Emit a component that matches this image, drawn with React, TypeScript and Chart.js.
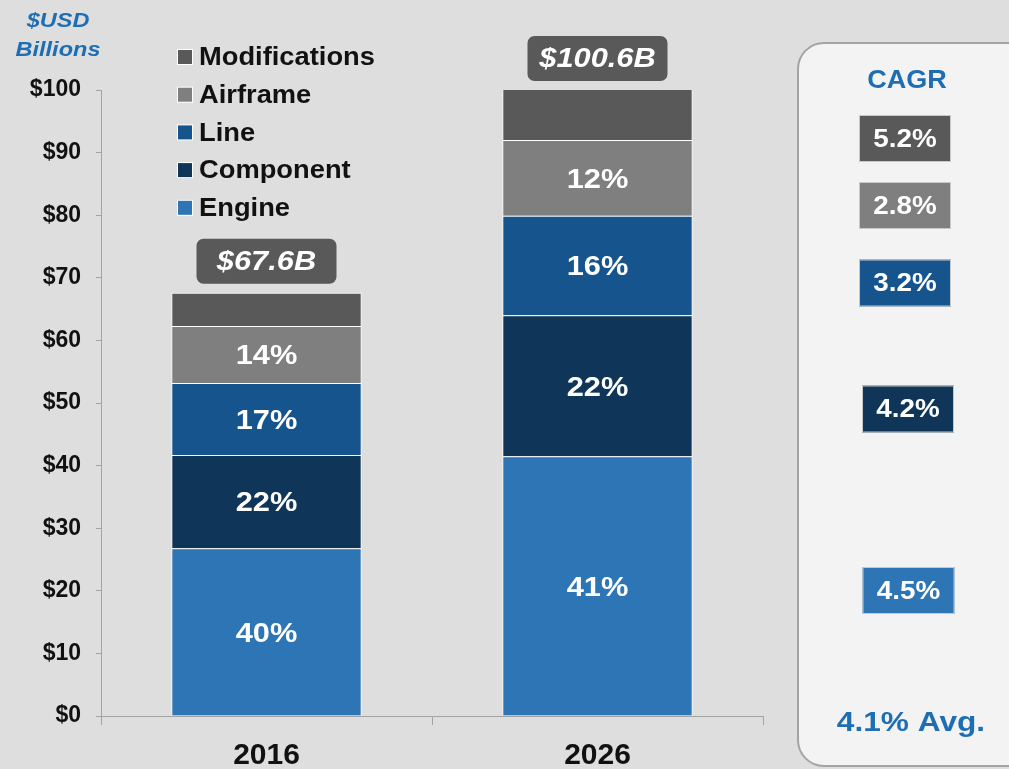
import React, { useEffect, useRef } from "react";
import { Chart, registerables } from "chart.js";
Chart.register(...registerables);

const categories = ["2016", "2026"];
const seriesNames = ["Engine", "Component", "Line", "Airframe", "Modifications"];
const engine = [26.8, 41.5];
const component = [14.9, 22.5];
const line = [11.5, 15.9];
const airframe = [9.1, 12.1];
const modifications = [5.3, 8.6];
const engineShare = ["40%", "41%"];
const componentShare = ["22%", "22%"];
const lineShare = ["17%", "16%"];
const airframeShare = ["14%", "12%"];
const modificationsShare = ["", ""];
const totals = ["$67.6B", "$100.6B"];
// CAGR per series: Engine, Component, Line, Airframe, Modifications
const cagr = ["4.5%", "4.2%", "3.2%", "2.8%", "5.2%"];
const cagrTitle = "CAGR";
const cagrAvg = "4.1% Avg.";
const yUnitLabel = ["$USD", "Billions"];
const yMin = 0;
const yMax = 100;
const yStep = 10;

const colors = ["#2e75b6", "#0f3659", "#16548e", "#7f7f7f", "#595959"];
const FONT = "'Liberation Sans', Arial, sans-serif";
const BLUE = "#1e6eb4";

function roundRect(ctx: CanvasRenderingContext2D, x: number, y: number, w: number, h: number, r: number) {
  ctx.beginPath();
  ctx.moveTo(x + r, y);
  ctx.lineTo(x + w - r, y);
  ctx.arcTo(x + w, y, x + w, y + r, r);
  ctx.lineTo(x + w, y + h - r);
  ctx.arcTo(x + w, y + h, x + w - r, y + h, r);
  ctx.lineTo(x + r, y + h);
  ctx.arcTo(x, y + h, x, y + h - r, r);
  ctx.lineTo(x, y + r);
  ctx.arcTo(x, y, x + r, y, r);
  ctx.closePath();
}

function wideText(ctx: CanvasRenderingContext2D, text: string, x: number, y: number, sx: number) {
  ctx.save();
  ctx.translate(x, y);
  ctx.scale(sx, 1);
  ctx.fillText(text, 0, 0);
  ctx.restore();
}

const overlayPlugin = {
  id: "overlay",
  afterDraw(chart: any) {
    const ctx: CanvasRenderingContext2D = chart.ctx;
    const area = chart.chartArea;
    const shares = [engineShare, componentShare, lineShare, airframeShare, modificationsShare];
    ctx.save();
    ctx.textAlign = "center";
    ctx.textBaseline = "middle";
    ctx.fillStyle = "#ffffff";
    ctx.font = `bold 28px ${FONT}`;
    shares.forEach((arr, i) => {
      const meta = chart.getDatasetMeta(i);
      meta.data.forEach((el: any, j: number) => {
        const top = Math.max(el.y, area.top);
        const cy = (top + el.base) / 2 + 2;
        if (arr[j]) wideText(ctx, arr[j], el.x, cy, 1.1);
      });
    });
    const lastMeta = chart.getDatasetMeta(shares.length - 1);
    lastMeta.data.forEach((el: any, j: number) => {
      const top = Math.max(el.y, area.top);
      const w = 140, h = 45;
      const bx = el.x - w / 2;
      const by = top - 9 - h;
      ctx.fillStyle = "#595959";
      roundRect(ctx, bx, by, w, h, 7);
      ctx.fill();
      ctx.fillStyle = "#ffffff";
      ctx.font = `italic bold 28px ${FONT}`;
      wideText(ctx, totals[j], el.x, by + h / 2 + 1, 1.1);
    });
    ctx.fillStyle = BLUE;
    ctx.font = `italic bold 21px ${FONT}`;
    wideText(ctx, yUnitLabel[0], 58, 21, 1.12);
    wideText(ctx, yUnitLabel[1], 58, 50, 1.12);
    const order = [4, 3, 2, 1, 0];
    ctx.textAlign = "left";
    order.forEach((idx, k) => {
      const cy = 57 + k * 37.7;
      ctx.fillStyle = "#ffffff";
      ctx.fillRect(177, cy - 8, 16, 16);
      ctx.fillStyle = colors[idx];
      ctx.fillRect(178, cy - 7, 14, 14);
      ctx.fillStyle = "#111111";
      ctx.font = `bold 26px ${FONT}`;
      wideText(ctx, seriesNames[idx], 199, cy + 1, 1.05);
    });
    ctx.fillStyle = "#f3f3f3";
    ctx.strokeStyle = "#a3a3a3";
    ctx.lineWidth = 2;
    roundRect(ctx, 798, 43, 260, 723, 26);
    ctx.fill();
    ctx.stroke();
    ctx.textAlign = "center";
    ctx.fillStyle = BLUE;
    ctx.font = `bold 26px ${FONT}`;
    wideText(ctx, cagrTitle, 907, 81, 1.04);
    const boxes = [
      { idx: 4, cx: 905, cy: 138.5 },
      { idx: 3, cx: 905, cy: 205.5 },
      { idx: 2, cx: 905, cy: 283 },
      { idx: 1, cx: 908, cy: 409 },
      { idx: 0, cx: 908.5, cy: 590.5 },
    ];
    boxes.forEach((b) => {
      ctx.fillStyle = colors[b.idx];
      ctx.fillRect(b.cx - 46, b.cy - 23.5, 92, 47);
      ctx.strokeStyle = "#c9c9c9";
      ctx.lineWidth = 1;
      ctx.strokeRect(b.cx - 46 + 0.5, b.cy - 23.5 + 0.5, 91, 46);
      ctx.fillStyle = "#ffffff";
      ctx.font = `bold 26px ${FONT}`;
      wideText(ctx, cagr[b.idx], b.cx, b.cy + 1, 1.07);
    });
    ctx.fillStyle = BLUE;
    ctx.font = `bold 28px ${FONT}`;
    wideText(ctx, cagrAvg, 911, 723, 1.13);
    ctx.restore();
  },
};

export default function App() {
  const ref = useRef<HTMLCanvasElement | null>(null);
  useEffect(() => {
    document.body.style.margin = "0";
    const seriesData = [engine, component, line, airframe, modifications];
    const chart = new Chart(ref.current as HTMLCanvasElement, {
      type: "bar",
      data: {
        labels: categories,
        datasets: seriesData.map((d, i) => ({
          label: seriesNames[i],
          data: d,
          backgroundColor: colors[i],
          borderColor: "#ffffff",
          borderWidth: 1,
          categoryPercentage: 1,
          barPercentage: 0.575,
        })),
      },
      options: {
        responsive: false,
        animation: false,
        devicePixelRatio: 1,
        layout: { padding: { top: 90, right: 246, bottom: 0, left: 0 } },
        plugins: { legend: { display: false }, tooltip: { enabled: false } },
        scales: {
          x: {
            stacked: true,
            afterFit: (s: any) => { s.height = 53; },
            grid: { display: true, drawOnChartArea: false, drawTicks: true, tickLength: 9, color: "#a3a3a3", offset: true },
            border: { display: true, color: "#a3a3a3", width: 1 },
            ticks: { color: "#111111", padding: 13, font: { family: FONT, size: 30, weight: "bold" } },
          },
          y: {
            stacked: true,
            min: yMin,
            max: yMax,
            afterFit: (s: any) => { s.width = 101; },
            grid: { display: true, drawOnChartArea: false, drawTicks: true, tickLength: 5, color: "#a3a3a3" },
            border: { display: true, color: "#a3a3a3", width: 1 },
            ticks: {
              stepSize: yStep,
              padding: 15,
              color: "#111111",
              font: { family: FONT, size: 23, weight: "bold" },
              callback: (v: any) => "$" + v,
            },
          },
        },
      },
      plugins: [overlayPlugin],
    });
    return () => chart.destroy();
  }, []);
  return (
    <div style={{ position: "absolute", left: 0, top: 0, width: 1009, height: 769, background: "#dedede", overflow: "hidden" }}>
      <canvas ref={ref} width={1009} height={769} style={{ display: "block" }} />
    </div>
  );
}
